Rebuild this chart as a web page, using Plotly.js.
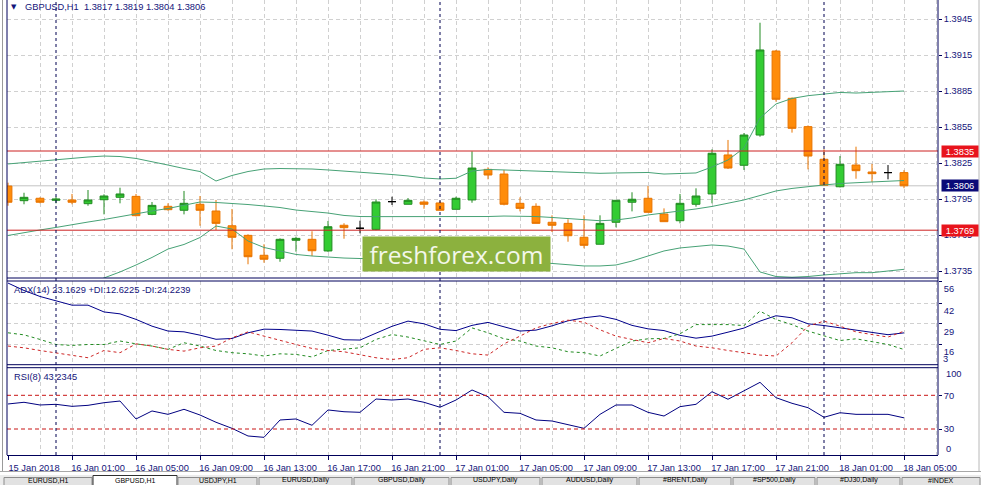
<!DOCTYPE html>
<html>
<head>
<meta charset="utf-8">
<script src="https://cdn.plot.ly/plotly-3.0.1.min.js"></script>
<style>
html,body{margin:0;padding:0;background:#ffffff;overflow:hidden;}
#chart{width:981px;height:485px;}
</style>
</head>
<body>
<div id="chart"></div>
<script>
// ---------------- DATA ----------------
const symbol = "GBPUSD,H1";
const times = [
 "15 Jan 21:00","15 Jan 22:00","15 Jan 23:00",
 "16 Jan 00:00","16 Jan 01:00","16 Jan 02:00","16 Jan 03:00","16 Jan 04:00","16 Jan 05:00","16 Jan 06:00","16 Jan 07:00",
 "16 Jan 08:00","16 Jan 09:00","16 Jan 10:00","16 Jan 11:00","16 Jan 12:00","16 Jan 13:00","16 Jan 14:00","16 Jan 15:00",
 "16 Jan 16:00","16 Jan 17:00","16 Jan 18:00","16 Jan 19:00","16 Jan 20:00","16 Jan 21:00","16 Jan 22:00","16 Jan 23:00",
 "17 Jan 00:00","17 Jan 01:00","17 Jan 02:00","17 Jan 03:00","17 Jan 04:00","17 Jan 05:00","17 Jan 06:00","17 Jan 07:00",
 "17 Jan 08:00","17 Jan 09:00","17 Jan 10:00","17 Jan 11:00","17 Jan 12:00","17 Jan 13:00","17 Jan 14:00","17 Jan 15:00",
 "17 Jan 16:00","17 Jan 17:00","17 Jan 18:00","17 Jan 19:00","17 Jan 20:00","17 Jan 21:00","17 Jan 22:00","17 Jan 23:00",
 "18 Jan 00:00","18 Jan 01:00","18 Jan 02:00","18 Jan 03:00","18 Jan 04:00","18 Jan 05:00"
];
const opens = [1.38058,1.37936,1.37956,1.37939,1.37942,1.37911,1.37944,1.37964,1.37972,1.37822,
 1.37889,1.37856,1.37906,1.37850,1.37727,1.37647,1.37481,1.37456,1.37606,1.37614,
 1.37517,1.37731,1.37706,1.37697,1.37928,1.37906,1.37925,1.37917,1.37864,1.37942,
 1.38197,1.38158,1.37914,1.37889,1.37756,1.37747,1.37631,1.37573,1.37756,1.37923,
 1.37956,1.37825,1.37769,1.37906,1.37992,1.38317,1.38231,1.38483,1.39183,1.38789,
 1.38553,1.38281,1.38052,1.38233,1.38175,1.38170,1.38170];
const highs = [1.38086,1.38002,1.37964,1.37969,1.37992,1.38025,1.37989,1.38044,1.37992,1.37925,
 1.37914,1.38017,1.37975,1.37942,1.37867,1.37656,1.37573,1.37622,1.37636,1.37681,
 1.37767,1.37748,1.37769,1.37948,1.37969,1.37958,1.37939,1.37933,1.37969,1.38347,
 1.38214,1.38192,1.37964,1.37914,1.37814,1.37781,1.37814,1.37814,1.37940,1.38006,
 1.38058,1.37872,1.37992,1.38039,1.38364,1.38442,1.38500,1.39419,1.39192,1.38796,
 1.38563,1.38364,1.38308,1.38386,1.38242,1.38233,1.38190];
const lows = [1.37894,1.37906,1.37914,1.37914,1.37906,1.37894,1.37822,1.37914,1.37805,1.37815,
 1.37853,1.37822,1.37727,1.37692,1.37531,1.37406,1.37419,1.37427,1.37511,1.37475,
 1.37510,1.37619,1.37664,1.37690,1.37900,1.37906,1.37869,1.37856,1.37864,1.37919,
 1.38114,1.37897,1.37847,1.37747,1.37675,1.37594,1.37539,1.37573,1.37714,1.37847,
 1.37839,1.37761,1.37747,1.37886,1.37914,1.38200,1.38192,1.38469,1.38761,1.38503,
 1.38197,1.38064,1.38047,1.38119,1.38092,1.38114,1.38040];
const closes = [1.37923,1.37964,1.37923,1.37950,1.37923,1.37942,1.37975,1.37992,1.37811,1.37897,
 1.37861,1.37914,1.37856,1.37747,1.37631,1.37469,1.37448,1.37614,1.37622,1.37519,
 1.37719,1.37711,1.37706,1.37925,1.37928,1.37939,1.37906,1.37856,1.37956,1.38208,
 1.38150,1.37906,1.37872,1.37747,1.37731,1.37644,1.37564,1.37747,1.37939,1.37948,
 1.37839,1.37761,1.37914,1.37975,1.38331,1.38208,1.38483,1.39192,1.38781,1.38539,
 1.38308,1.38064,1.38239,1.38186,1.38161,1.38170,1.38060];
const bbUpper = [1.38242,1.38254,1.38267,1.38275,1.38288,1.38300,1.38308,1.38304,1.38288,1.38263,
 1.38233,1.38204,1.38179,1.38100,1.38146,1.38179,1.38200,1.38204,1.38204,1.38200,
 1.38192,1.38183,1.38175,1.38167,1.38154,1.38142,1.38125,1.38117,1.38123,1.38183,
 1.38196,1.38192,1.38188,1.38183,1.38175,1.38171,1.38167,1.38164,1.38167,1.38169,
 1.38171,1.38158,1.38163,1.38167,1.38217,1.38275,1.38375,1.38625,1.38742,1.38788,
 1.38811,1.38823,1.38838,1.38833,1.38838,1.38844,1.38850];
const bbMiddle = [1.37646,1.37671,1.37692,1.37713,1.37738,1.37758,1.37779,1.37804,1.37829,1.37850,
 1.37871,1.37900,1.37925,1.37921,1.37914,1.37904,1.37892,1.37879,1.37858,1.37846,
 1.37833,1.37813,1.37804,1.37803,1.37803,1.37802,1.37800,1.37798,1.37798,1.37800,
 1.37804,1.37808,1.37808,1.37804,1.37796,1.37788,1.37775,1.37769,1.37775,1.37792,
 1.37817,1.37833,1.37850,1.37867,1.37888,1.37913,1.37942,1.37979,1.38017,1.38038,
 1.38054,1.38067,1.38079,1.38088,1.38092,1.38098,1.38104];
const bbLower = [1.37000,1.37050,1.37100,1.37142,1.37183,1.37233,1.37292,1.37342,1.37400,1.37463,
 1.37533,1.37571,1.37629,1.37725,1.37700,1.37600,1.37546,1.37517,1.37488,1.37475,
 1.37464,1.37458,1.37454,1.37450,1.37450,1.37450,1.37450,1.37450,1.37446,1.37442,
 1.37438,1.37433,1.37425,1.37421,1.37413,1.37400,1.37392,1.37392,1.37400,1.37433,
 1.37475,1.37517,1.37542,1.37554,1.37567,1.37558,1.37533,1.37342,1.37304,1.37298,
 1.37304,1.37317,1.37329,1.37336,1.37336,1.37350,1.37364];
const adx = [54.7,50.0,46.2,43.4,40.7,40.7,36.4,35.2,31.7,27.4,
 24.3,23.8,21.7,19.1,19.6,23.2,25.5,25.3,24.6,24.3,
 21.7,18.8,18.6,23.0,27.3,30.6,28.9,25.4,24.6,27.9,
 29.8,27.0,24.3,24.9,27.6,30.8,32.7,33.9,31.7,27.9,
 25.7,24.6,21.6,19.8,21.1,23.6,26.2,30.6,34.0,32.7,
 28.9,27.8,26.3,24.8,23.4,22.0,23.1629];
const plusDI = [23.2,21.9,19.0,15.8,15.2,15.8,15.8,18.0,16.2,14.8,
 12.7,16.9,14.8,12.0,10.6,9.9,8.5,9.9,9.5,7.9,
 12.0,12.7,13.7,19.0,22.1,20.5,18.0,15.8,18.0,26.3,
 23.2,19.4,18.0,14.8,13.7,11.2,10.6,8.5,13.3,18.0,
 19.4,19.6,22.6,28.4,28.4,28.4,27.8,36.9,31.6,28.4,
 24.3,21.1,18.3,19.4,17.5,15.8,12.6225];
const minusDI = [14.8,13.7,12.0,10.6,9.1,7.4,12.0,10.6,16.2,14.8,
 12.7,11.6,13.7,14.8,20.0,23.8,21.1,18.3,15.8,13.3,
 12.0,11.2,9.5,7.4,6.3,7.4,12.7,13.7,12.0,9.9,
 9.1,16.2,21.1,26.3,29.1,31.2,29.9,25.1,21.1,19.0,
 16.9,19.6,18.0,14.8,13.7,12.0,10.6,9.1,8.5,16.9,
 27.4,30.6,27.4,23.8,22.1,20.5,24.2239];
const rsi = [59.7,61.7,58.5,59.3,56.9,58.1,61.2,63.2,41.9,51.4,
 47.4,53.4,46.6,38.0,30.8,21.7,20.1,40.7,41.9,34.4,
 52.6,50.5,49.8,65.6,64.4,65.6,61.7,55.8,64.4,76.3,
 68.3,49.8,48.6,40.7,39.5,34.7,30.8,47.4,58.5,58.5,
 49.8,45.4,56.5,59.3,74.3,65.3,75.1,85.4,67.2,60.5,
 55.3,43.9,49.3,47.4,47.4,47.4,43.2345];
const tickBars = [0,4,8,12,16,20,24,28,32,36,40,44,48,52,56];
const tickLabels = ["15 Jan 2018","16 Jan 01:00","16 Jan 05:00","16 Jan 09:00","16 Jan 13:00",
 "16 Jan 17:00","16 Jan 21:00","17 Jan 01:00","17 Jan 05:00","17 Jan 09:00","17 Jan 13:00",
 "17 Jan 17:00","17 Jan 21:00","18 Jan 01:00","18 Jan 05:00"];
const hLevels = [1.3835, 1.3769];
const rsiLevels = [70, 30];
const adxTicks = [56, 42, 29, 16];
const adxMinLabel = "3";
const rsiEdgeLabels = ["100", "0"];
const tabNames = ["EURUSD,H1","GBPUSD,H1","USDJPY,H1","EURUSD,Daily","GBPUSD,Daily","USDJPY,Daily",
 "AUDUSD,Daily","#BRENT,Daily","#SP500,Daily","#DJ30,Daily","#INDEX"];
const watermark = "freshforex.com";

// ---------------- LAYOUT HELPERS ----------------
const W = 981, H = 485;
const M = {l:7, r:43, t:0, b:30};
const PW = W - M.l - M.r;   // 931
const PH = H - M.t - M.b;   // 455
const px = x => (x - M.l) / PW;
const py = y => (PH - y) / PH;

const navy = '#14147a';
const frame = '#00005a';
const gridC = '#d0d0d0';
const gdash = '4px,3px';
const FONT = 'Liberation Sans, Arial, sans-serif';
const FS = 9.3;

const n = times.length;
const idx = times.map((_, i) => i);
const isDoji = i => opens[i] === closes[i];
const normal = idx.filter(i => !isDoji(i));
const doji = idx.filter(isDoji);
const pick = (arr, ids) => ids.map(i => arr[i]);
const dayStarts = idx.filter(i => times[i].endsWith('00:00'));

const dMain = [py(278), 1];
const dAdx = [py(364.7), py(281)];
const dRsi = [0, py(367.7)];

const bbLine = {color:'#47a276', width:1};
const traces = [
  {type:'scatter', mode:'lines', x:idx, y:bbUpper, line:bbLine, xaxis:'x', yaxis:'y', hoverinfo:'skip'},
  {type:'scatter', mode:'lines', x:idx, y:bbMiddle, line:bbLine, xaxis:'x', yaxis:'y', hoverinfo:'skip'},
  {type:'scatter', mode:'lines', x:idx, y:bbLower, line:bbLine, xaxis:'x', yaxis:'y', hoverinfo:'skip'},
  {type:'candlestick', x:normal, open:pick(opens,normal), high:pick(highs,normal), low:pick(lows,normal), close:pick(closes,normal),
   increasing:{line:{color:'#228b22', width:1}, fillcolor:'#33cc33'},
   decreasing:{line:{color:'#e87400', width:1}, fillcolor:'#ff8c0a'},
   whiskerwidth:0, xaxis:'x', yaxis:'y', hoverinfo:'skip'},
  {type:'candlestick', x:doji, open:pick(opens,doji), high:pick(highs,doji), low:pick(lows,doji), close:pick(closes,doji),
   increasing:{line:{color:'#000000', width:1}, fillcolor:'#000000'},
   decreasing:{line:{color:'#000000', width:1}, fillcolor:'#000000'},
   whiskerwidth:0, xaxis:'x', yaxis:'y', hoverinfo:'skip'},
  {type:'scatter', mode:'lines', x:idx, y:adx, line:{color:'#00008b', width:1}, xaxis:'x', yaxis:'y2', hoverinfo:'skip'},
  {type:'scatter', mode:'lines', x:idx, y:plusDI, line:{color:'#228b22', width:1, dash:'3px,3px'}, xaxis:'x', yaxis:'y2', hoverinfo:'skip'},
  {type:'scatter', mode:'lines', x:idx, y:minusDI, line:{color:'#cd2626', width:1, dash:'3px,3px'}, xaxis:'x', yaxis:'y2', hoverinfo:'skip'},
  {type:'scatter', mode:'lines', x:idx, y:rsi, line:{color:'#000080', width:1}, xaxis:'x', yaxis:'y3', hoverinfo:'skip'}
];

// ---------------- SHAPES ----------------
const shapes = [];
const pline = (x0,y0,x1,y1,color,width,dash,layer) => shapes.push({type:'line', xref:'paper', yref:'paper', x0, y0, x1, y1,
  line:{color, width:width||1, dash:dash||'solid'}, layer:layer||'above'});
// bid line (last close)
shapes.push({type:'line', xref:'paper', yref:'y', x0:0, x1:1, y0:closes[n-1], y1:closes[n-1], line:{color:'#c4c4c4', width:1}, layer:'below'});
// horizontal level lines
hLevels.forEach(v => shapes.push({type:'line', xref:'paper', yref:'y', x0:0, x1:1, y0:v, y1:v, line:{color:'#cc2020', width:1}}));
// RSI levels
rsiLevels.forEach(v => shapes.push({type:'line', xref:'paper', yref:'y3', x0:0, x1:1, y0:v, y1:v, line:{color:'#c81414', width:1, dash:'4px,3px'}}));
// day separators
dayStarts.forEach(i => shapes.push({type:'line', xref:'x', yref:'paper', x0:i, x1:i, y0:0, y1:1, line:{color:'#000050', width:1, dash:'3px,3px'}}));
// frames
pline(0,0,0,1,frame,1);
pline(1,0,1,1,frame,1);
pline(0,dMain[0],1,dMain[0],frame,1);
pline(0,dAdx[1],1,dAdx[1],frame,1);
pline(0,dAdx[0],1,dAdx[0],frame,1);
pline(0,dRsi[1],1,dRsi[1],frame,1);
// window borders
pline(px(2.5),py(0),px(2.5),py(471),'#9a9a9a',1);
pline(px(979),py(0),px(979),py(471),'#b8b8b8',1);
pline(px(0),py(471.5),px(981),py(471.5),'#a8a8a8',1);
// tab bar
shapes.push({type:'rect', xref:'paper', yref:'paper', x0:px(0), x1:px(981), y0:py(475), y1:py(492), fillcolor:'#ececec', line:{width:0}});
const tabEdges = [3,93,177,258,353,450,541,638,732,816,901,981];
tabNames.forEach((t,k) => {
  const active = t === symbol;
  shapes.push({type:'rect', xref:'paper', yref:'paper', x0:px(tabEdges[k]+ (active?0:1)), x1:px(tabEdges[k+1]-(active?0:1)),
    y0:py(492), y1:py(active?475.5:477.5), fillcolor: active ? '#ffffff' : '#e2e2e2',
    line:{color: active ? '#303030' : '#8c8c8c', width:1}});
});

// ---------------- ANNOTATIONS ----------------
const ann = [];
const txt = (x, y, text, opts) => ann.push(Object.assign({xref:'paper', yref:'paper', x, y, text, showarrow:false,
  xanchor:'left', yanchor:'middle', font:{family:FONT, size:FS, color:navy}}, opts||{}));
const f4 = v => v.toFixed(4);
txt(px(9), py(7.3), '▼', {font:{family:'DejaVu Sans', size:7, color:navy}});
txt(px(22.5), py(7.3), symbol + '\u00a0\u00a0' + [opens[n-1],highs[n-1],lows[n-1],closes[n-1]].map(f4).join(' '));
txt(px(12.3), py(289.7), 'ADX(14) ' + f4(adx[n-1]) + ' +DI:' + f4(plusDI[n-1]) + ' -DI:' + f4(minusDI[n-1]));
txt(px(12.3), py(376.7), 'RSI(8) ' + f4(rsi[n-1]));
txt(px(941.5), py(358.7), adxMinLabel);
txt(px(943.5), py(374.3), rsiEdgeLabels[0]);
txt(px(943.5), py(449.3), rsiEdgeLabels[1]);
// price tags
const tag = (v, bg) => ann.push({xref:'paper', yref:'y', x:px(940.5), y:v, xanchor:'left', yanchor:'middle', text:f4(v),
  showarrow:false, bgcolor:bg, width:36, height:11, borderpad:0, align:'center', font:{family:FONT, size:FS, color:'#ffffff'}});
tag(hLevels[0], '#e8141c');
tag(closes[n-1], '#0a0a78');
tag(hLevels[1], '#e8141c');
// watermark
ann.push({xref:'paper', yref:'paper', x:px(456.5), y:py(253.7), xanchor:'center', yanchor:'middle', text:watermark,
  showarrow:false, bgcolor:'#8cb13e', width:187, height:34, borderpad:0,
  font:{family:'Open Sans, Noto Sans, sans-serif', size:24.5, color:'#f3f7ea'}});
// tab labels
tabNames.forEach((t,k) => {
  ann.push({xref:'paper', yref:'paper', x:px((tabEdges[k]+tabEdges[k+1])/2), y:py(480.3), xanchor:'center', yanchor:'middle',
    text:t, showarrow:false, font:{family:FONT, size:7, color:'#000000'}});
});

const axTick = {family:FONT, size:FS, color:navy};
const layout = {
  width:W, height:H, margin:M, paper_bgcolor:'#ffffff', plot_bgcolor:'#ffffff', showlegend:false, hovermode:false,
  font:{family:FONT, size:FS, color:navy},
  xaxis:{domain:[0,1], anchor:'y3', range:[-0.0625, 58.125], tickmode:'array', tickvals:tickBars, ticktext:tickLabels,
    ticks:'outside', ticklen:4, tickcolor:frame, showline:true, linecolor:frame, linewidth:1,
    showgrid:true, gridcolor:gridC, griddash:gdash, gridwidth:1, zeroline:false, ticklabelshift:26,
    minor:{dtick:2, tick0:0, showgrid:true, gridcolor:gridC, griddash:gdash, ticks:''},
    rangeslider:{visible:false}, fixedrange:true, tickfont:axTick},
  yaxis:{domain:dMain, anchor:'x', side:'right', range:[1.372917, 1.396083], tickmode:'linear', tick0:1.3735, dtick:0.003,
    tickformat:'.4f', ticks:'outside', ticklen:3, tickcolor:frame, showgrid:true, gridcolor:gridC, griddash:gdash,
    zeroline:false, showline:false, fixedrange:true, tickfont:axTick},
  yaxis2:{domain:dAdx, anchor:'x', side:'right', range:[3,56], tickmode:'array', tickvals:adxTicks, ticktext:adxTicks.map(String),
    ticklabelshift:8, ticks:'outside', ticklen:3, tickcolor:frame, showgrid:true, gridcolor:gridC, griddash:gdash,
    zeroline:false, fixedrange:true, tickfont:axTick},
  yaxis3:{domain:dRsi, anchor:'x', side:'right', range:[-0.86, 102.76], tickmode:'array', tickvals:rsiLevels,
    ticktext:rsiLevels.map(String), ticks:'outside', ticklen:3, tickcolor:frame, showgrid:false, zeroline:false,
    fixedrange:true, tickfont:axTick},
  shapes, annotations:ann
};

Plotly.newPlot('chart', traces, layout, {staticPlot:true, displayModeBar:false});
</script>
</body>
</html>
